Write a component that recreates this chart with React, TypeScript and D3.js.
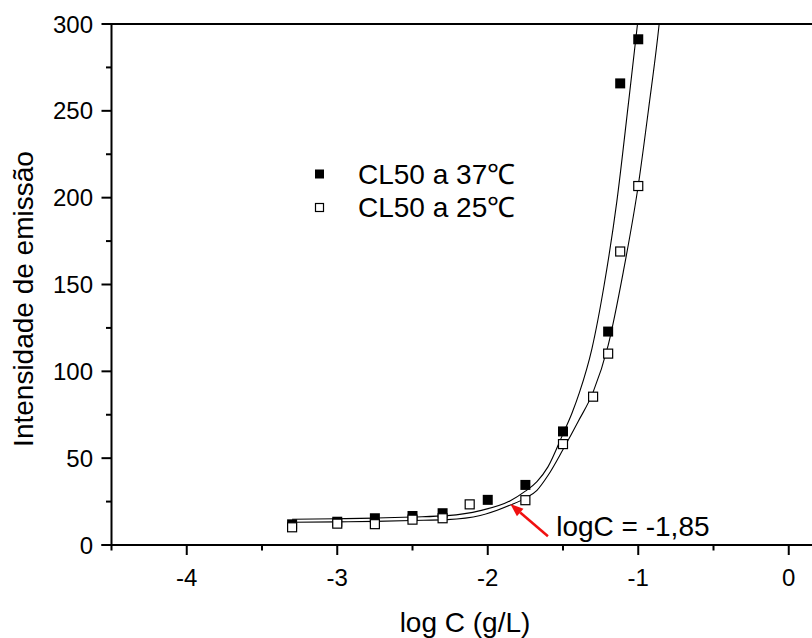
import React from "react";
import * as d3 from "d3";

// ---- data ----
const logC37 = [-3.3, -3, -2.75, -2.5, -2.3, -2, -1.75, -1.5, -1.2, -1.12, -1];
const emission37 = [11.9, 13.4, 15.4, 16.7, 18.3, 26, 34.6, 65.4, 122.9, 265.8, 291.2];

const logC25 = [-3.3, -3, -2.75, -2.5, -2.3, -2.12, -1.75, -1.5, -1.3, -1.2, -1.12, -1];
const emission25 = [10.2, 12.3, 12, 14.6, 15.4, 23.4, 25.8, 58.1, 85.4, 110.2, 169, 206.7];

// fitted curves
const fit37X = [-3.3, -3, -2.75, -2.5, -2.27, -2.05, -1.85, -1.75, -1.673, -1.6, -1.5, -1.44, -1.39, -1.308, -1.226, -1.142, -1.067, -1.005, -0.98];
const fit37Y = [14.8, 15.1, 15.5, 16.1, 16.9, 19.8, 25.5, 31, 36.5, 45, 64, 76, 88, 113, 150, 198, 253, 300, 320];

const fit25X = [-3.3, -3, -2.75, -2.5, -2.27, -2.05, -1.85, -1.75, -1.673, -1.6, -1.5, -1.4, -1.3, -1.2, -1.1, -1.0, -0.93, -0.861, -0.84];
const fit25Y = [13.1, 13.3, 13.6, 14.1, 14.6, 17, 23, 27, 31.5, 40, 55, 71, 88, 115, 157, 207, 252, 300, 318];

const xTicks = [-4, -3, -2, -1, 0];
const yTicks = [0, 50, 100, 150, 200, 250, 300];
const xDomain = [-4.5, 0.5];
const yDomain = [0, 300];

const legendLabels = ["CL50 a 37\u2103", "CL50 a 25\u2103"];
const xLabel = "log C (g/L)";
const yLabel = "Intensidade de emissão";
const annotationText = "logC = -1,85";
const annotationTip = [-1.85, 23.6];
const annotationTail = [-1.6, 5.0];
const annotationTextPos = [-1.545, 5.4];

const FONT = "'Liberation Sans', Arial, Helvetica, sans-serif";

export default function App() {
  const W = 812;
  const H = 638;
  const x = d3.scaleLinear().domain(xDomain).range([111.5, 864]);
  const y = d3.scaleLinear().domain(yDomain).range([545, 24]);

  const xMinor = d3.range(-4.5, 0.51, 0.5).filter((v) => !xTicks.includes(v));
  const yMinor = d3.range(25, 300, 50);

  const line = d3
    .line<[number, number]>()
    .x((d) => x(d[0]))
    .y((d) => y(d[1]))
    .curve(d3.curveMonotoneX);

  const fit37 = fit37X.map((v, i) => [v, fit37Y[i]] as [number, number]);
  const fit25 = fit25X.map((v, i) => [v, fit25Y[i]] as [number, number]);

  const left = x(xDomain[0]);
  const top = y(yDomain[1]);
  const bottom = y(yDomain[0]);

  // arrow
  const tx = x(annotationTip[0]);
  const ty = y(annotationTip[1]);
  const sx = x(annotationTail[0]);
  const sy = y(annotationTail[1]);
  const ang = Math.atan2(ty - sy, tx - sx);
  const headLen = 13;
  const headW = 5;
  const bx = tx - headLen * Math.cos(ang);
  const by = ty - headLen * Math.sin(ang);
  const p1 = [bx + headW * Math.sin(ang), by - headW * Math.cos(ang)];
  const p2 = [bx - headW * Math.sin(ang), by + headW * Math.cos(ang)];

  const ms = 10; // marker size

  return (
    <svg
      width={W}
      height={H}
      style={{ position: "absolute", left: 0, top: 0, background: "#fff" }}
      fontFamily={FONT}
    >
      <defs>
        <clipPath id="plotClip">
          <rect x={left} y={top} width={W - left} height={bottom - top} />
        </clipPath>
      </defs>
      <rect x={0} y={0} width={W} height={H} fill="#fff" />

      {/* curves */}
      <g clipPath="url(#plotClip)">
        <path d={line(fit37) || ""} fill="none" stroke="#000" strokeWidth={1.1} />
        <path d={line(fit25) || ""} fill="none" stroke="#000" strokeWidth={1.1} />
      </g>

      {/* 37C filled squares */}
      {logC37.map((v, i) => (
        <rect
          key={"f" + i}
          x={x(v) - ms / 2}
          y={y(emission37[i]) - ms / 2}
          width={ms}
          height={ms}
          fill="#000"
        />
      ))}
      {/* 25C open squares */}
      {logC25.map((v, i) => (
        <rect
          key={"o" + i}
          x={x(v) - (ms - 1) / 2}
          y={y(emission25[i]) - (ms - 1) / 2}
          width={ms - 1}
          height={ms - 1}
          fill="#fff"
          stroke="#000"
          strokeWidth={1.2}
        />
      ))}

      {/* axes */}
      <line x1={left} x2={W} y1={top} y2={top} stroke="#000" strokeWidth={2} />
      <line x1={left} x2={left} y1={top - 1} y2={bottom} stroke="#000" strokeWidth={2} />
      <line x1={left - 10} x2={W} y1={bottom} y2={bottom} stroke="#000" strokeWidth={2} />

      {xTicks.map((t) => (
        <g key={"xt" + t}>
          <line x1={x(t)} x2={x(t)} y1={bottom} y2={bottom + 10} stroke="#000" strokeWidth={2} />
          <text x={x(t)} y={586} fontSize={24} textAnchor="middle" fill="#000">
            {t}
          </text>
        </g>
      ))}
      {xMinor.map((t) => (
        <line key={"xm" + t} x1={x(t)} x2={x(t)} y1={bottom} y2={bottom + 5.5} stroke="#000" strokeWidth={2} />
      ))}
      {yTicks.map((t) => (
        <g key={"yt" + t}>
          <line x1={left - 10} x2={left} y1={y(t)} y2={y(t)} stroke="#000" strokeWidth={2} />
          <text x={93} y={y(t) + 8.6} fontSize={24} textAnchor="end" fill="#000">
            {t}
          </text>
        </g>
      ))}
      {yMinor.map((t) => (
        <line key={"ym" + t} x1={left - 5.5} x2={left} y1={y(t)} y2={y(t)} stroke="#000" strokeWidth={2} />
      ))}

      {/* axis labels */}
      <text x={465} y={632} fontSize={28} textAnchor="middle" fill="#000">
        {xLabel}
      </text>
      <text
        transform={`translate(33,299) rotate(-90)`}
        fontSize={28}
        textAnchor="middle"
        fill="#000"
      >
        {yLabel}
      </text>

      {/* legend */}
      <rect x={319.5 - 4.5} y={174 - 4.5} width={9} height={9} fill="#000" />
      <rect x={319.5 - 4} y={207.5 - 4} width={8} height={8} fill="#fff" stroke="#000" strokeWidth={1.2} />
      <text x={358} y={183.5} fontSize={28} fill="#000">
        {legendLabels[0]}
      </text>
      <text x={358} y={217} fontSize={28} fill="#000">
        {legendLabels[1]}
      </text>

      {/* annotation */}
      <line x1={sx} y1={sy} x2={bx} y2={by} stroke="#f01010" strokeWidth={2.5} />
      <polygon points={`${tx},${ty} ${p1[0]},${p1[1]} ${p2[0]},${p2[1]}`} fill="#f01010" />
      <text x={x(annotationTextPos[0])} y={y(annotationTextPos[1])} fontSize={28} fill="#000">
        {annotationText}
      </text>
    </svg>
  );
}
